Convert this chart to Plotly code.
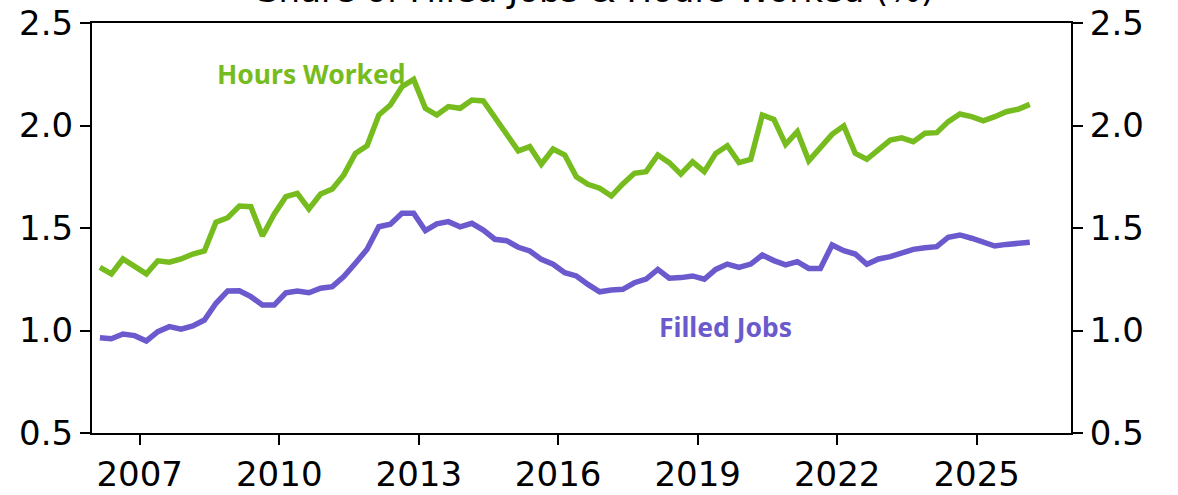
import pandas as pd
import plotly.graph_objects as go

quarters = pd.period_range("2006Q1", "2026Q1", freq="Q")

hours_worked = [
    1.308, 1.276, 1.349, 1.316, 1.276, 1.340, 1.333, 1.349, 1.373, 1.388,
    1.528, 1.550, 1.607, 1.604, 1.461, 1.567, 1.653, 1.669, 1.593, 1.666,
    1.690, 1.759, 1.864, 1.901, 2.051, 2.100, 2.189, 2.225, 2.084, 2.051,
    2.092, 2.084, 2.124, 2.120, 2.038, 1.957, 1.876, 1.897, 1.811, 1.885,
    1.856, 1.750, 1.713, 1.694, 1.656, 1.715, 1.767, 1.775, 1.856, 1.819,
    1.763, 1.823, 1.775, 1.864, 1.901, 1.819, 1.835, 2.051, 2.030, 1.908,
    1.970, 1.828, 1.889, 1.957, 1.998, 1.864, 1.835, 1.880, 1.929, 1.940,
    1.921, 1.962, 1.965, 2.019, 2.056, 2.043, 2.023, 2.043, 2.067, 2.079,
    2.103,
]

filled_jobs = [
    0.965, 0.960, 0.983, 0.975, 0.949, 0.994, 1.019, 1.007, 1.022, 1.051,
    1.133, 1.193, 1.194, 1.165, 1.124, 1.124, 1.184, 1.193, 1.184, 1.206,
    1.214, 1.263, 1.328, 1.396, 1.506, 1.518, 1.572, 1.572, 1.487, 1.520,
    1.531, 1.506, 1.523, 1.490, 1.445, 1.438, 1.406, 1.388, 1.347, 1.323,
    1.282, 1.266, 1.225, 1.189, 1.198, 1.201, 1.233, 1.251, 1.298, 1.255,
    1.258, 1.266, 1.250, 1.298, 1.324, 1.308, 1.324, 1.368, 1.341, 1.320,
    1.336, 1.303, 1.303, 1.417, 1.389, 1.373, 1.323, 1.349, 1.360, 1.376,
    1.396, 1.404, 1.409, 1.455, 1.466, 1.450, 1.433, 1.412, 1.420, 1.425,
    1.430,
]

x_tick_years = ["2007", "2010", "2013", "2016", "2019", "2022", "2025"]
y_ticks = [0.5, 1.0, 1.5, 2.0, 2.5]
y_tick_text = ["0.5", "1.0", "1.5", "2.0", "2.5"]

title_text = "Share of Filled Jobs & Hours Worked (%)"
label_hours = "Hours Worked"
label_jobs = "Filled Jobs"

GREEN = "#77BC1F"
PURPLE = "#6A5ACD"

# mid-quarter dates
dates = quarters.to_timestamp(how="start") + pd.Timedelta(days=52)

fig = go.Figure()
fig.add_trace(go.Scatter(x=dates, y=hours_worked, mode="lines", name=label_hours,
                         line=dict(color=GREEN, width=5.5), yaxis="y"))
fig.add_trace(go.Scatter(x=dates, y=filled_jobs, mode="lines", name=label_jobs,
                         line=dict(color=PURPLE, width=5.5), yaxis="y2"))

tick_font = dict(family="DejaVu Sans", size=34, color="black")
common = dict(ticks="outside", ticklen=10, tickwidth=1.5, tickcolor="black",
              showline=True, linecolor="black", linewidth=2,
              showgrid=False, zeroline=False, tickfont=tick_font, automargin=False)

fig.update_layout(
    width=1178, height=495,
    margin=dict(l=92, r=107, t=23, b=62, autoexpand=False),
    paper_bgcolor="white", plot_bgcolor="white",
    showlegend=False,
    xaxis=dict(
        type="date",
        range=["2005-12-22", "2027-01-12"],
        tickvals=[f"{y}-01-01" for y in x_tick_years],
        ticktext=x_tick_years,
        mirror=True,
        **common,
    ),
    yaxis=dict(
        range=[0.5, 2.5],
        tickvals=y_ticks, ticktext=y_tick_text,
        **common,
    ),
    yaxis2=dict(
        range=[0.5, 2.5], overlaying="y", side="right",
        tickvals=y_ticks, ticktext=y_tick_text,
        **common,
    ),
    annotations=[
        dict(text=title_text, xref="paper", yref="paper", x=0.514, y=1.081,
             xanchor="center", yanchor="middle", showarrow=False,
             font=dict(family="DejaVu Sans", size=34, color="black")),
        dict(text=f"<b>{label_hours}</b>", xref="paper", yref="paper", x=0.2237, y=0.8756,
             xanchor="center", yanchor="middle", showarrow=False,
             font=dict(family="Noto Sans", size=26.5, color=GREEN)),
        dict(text=f"<b>{label_jobs}</b>", xref="paper", yref="paper", x=0.6466, y=0.2585,
             xanchor="center", yanchor="middle", showarrow=False,
             font=dict(family="Noto Sans", size=26.5, color=PURPLE)),
    ],
)

fig.write_html("out.html", config={"displayModeBar": False},
               post_script="document.body.style.margin='0px';")
